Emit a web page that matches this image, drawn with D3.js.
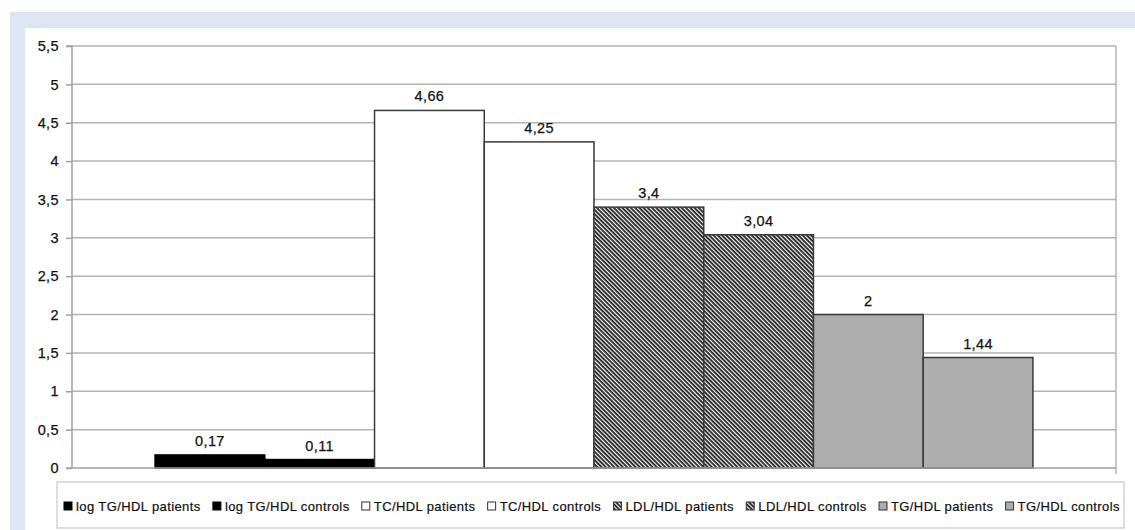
<!DOCTYPE html>
<html><head><meta charset="utf-8">
<script src="https://cdn.jsdelivr.net/npm/d3@7"></script>
<style>
html,body{margin:0;padding:0;background:#fff;}
svg{display:block;font-family:"Liberation Sans",Arial,sans-serif;}
</style></head>
<body>
<svg id="c" width="1135" height="530"></svg>
<script>
const series = ["log TG/HDL patients","log TG/HDL controls","TC/HDL patients","TC/HDL controls","LDL/HDL patients","LDL/HDL controls","TG/HDL patients","TG/HDL controls"];
const values = [0.17, 0.11, 4.66, 4.25, 3.4, 3.04, 2, 1.44];
const labels = ["0,17","0,11","4,66","4,25","3,4","3,04","2","1,44"];
const fills = ["black","black","white","white","hatch","hatch","gray","gray"];
const yTicks = [0,0.5,1,1.5,2,2.5,3,3.5,4,4.5,5,5.5];
const yTickLabels = ["0","0,5","1","1,5","2","2,5","3","3,5","4","4,5","5","5,5"];

const svg = d3.select("#c");
// background frame
svg.append("rect").attr("x",10).attr("y",12).attr("width",1125).attr("height",518).attr("fill","#dfe6f3");
svg.append("rect").attr("x",25).attr("y",28).attr("width",1110).attr("height",502).attr("fill","#ffffff");

const defs = svg.append("defs");
const pat = defs.append("pattern").attr("id","hatch").attr("patternUnits","userSpaceOnUse")
  .attr("width",3).attr("height",3).attr("patternTransform","rotate(45)");
pat.append("rect").attr("width",3).attr("height",3).attr("fill","#ffffff");
pat.append("rect").attr("width",3).attr("height",1.8).attr("fill","#1e1e1e");

const fillOf = f => f==="black" ? "#000000" : f==="white" ? "#ffffff" : f==="gray" ? "#adadad" : "url(#hatch)";

const L = 72, R = 1116, T = 46, B = 468;
const x = d3.scaleBand().domain(series).range([L,R]).paddingInner(0).paddingOuter(0.757);
const y = d3.scaleLinear().domain([0,5.5]).range([B,T]);

// gridlines
svg.append("g").selectAll("line").data(yTicks.filter(d=>d>0)).join("line")
  .attr("x1",L).attr("x2",R).attr("y1",d=>y(d)).attr("y2",d=>y(d))
  .attr("stroke","#b4b4b4").attr("stroke-width",1.5);
// right border
svg.append("line").attr("x1",R).attr("x2",R).attr("y1",T).attr("y2",B+6).attr("stroke","#b4b4b4").attr("stroke-width",1.5);

// bars
svg.append("g").selectAll("rect").data(series).join("rect")
  .attr("x",d=>x(d)).attr("width",x.bandwidth())
  .attr("y",(d,i)=>y(values[i])).attr("height",(d,i)=>B-y(values[i]))
  .attr("fill",(d,i)=>fillOf(fills[i]))
  .attr("stroke",(d,i)=>fills[i]==="black"?"#000":"#3a3a3a").attr("stroke-width",1.5);

// data labels
svg.append("g").selectAll("text").data(series).join("text")
  .attr("x",d=>x(d)+x.bandwidth()/2).attr("y",(d,i)=>y(values[i])-9)
  .attr("text-anchor","middle").attr("font-size",14.5).attr("letter-spacing",0.4).attr("fill","#111")
  .attr("stroke","#111").attr("stroke-width",0.25)
  .text((d,i)=>labels[i]);

// y axis
const yAxis = d3.axisLeft(y).tickValues(yTicks).tickFormat((d,i)=>yTickLabels[i]).tickSize(6).tickPadding(7);
const ga = svg.append("g").attr("transform",`translate(${L},0)`).call(yAxis);
ga.select(".domain").attr("stroke","#a0a0a0").attr("stroke-width",1.5).attr("d",`M-6,${T}H0V${B}`);
ga.selectAll(".tick line").attr("stroke","#a0a0a0").attr("stroke-width",1.5);
ga.selectAll(".tick text").attr("font-size",14.5).attr("letter-spacing",0.4).attr("fill","#111")
  .attr("stroke","#111").attr("stroke-width",0.25).attr("font-family","Liberation Sans, Arial, sans-serif");
// x axis baseline
svg.append("line").attr("x1",L-6).attr("x2",R).attr("y1",B).attr("y2",B).attr("stroke","#a0a0a0").attr("stroke-width",1.5);

// legend
svg.append("rect").attr("x",57).attr("y",482).attr("width",1067).attr("height",46)
  .attr("fill","#fff").attr("stroke","#c8c8c8").attr("stroke-width",1.2);
const lg = svg.append("g");
const items = lg.selectAll("g").data(series).join("g");
items.append("rect").attr("width",8).attr("height",8).attr("y",-9)
  .attr("fill",(d,i)=>fillOf(fills[i])).attr("stroke",(d,i)=>fills[i]==="black"?"#000":"#333").attr("stroke-width",1);
items.append("text").attr("x",12).attr("y",0).attr("font-size",13).attr("letter-spacing",0.4).attr("fill","#111")
  .attr("stroke","#111").attr("stroke-width",0.2).text(d=>d);
const widths = [];
items.each(function(){ widths.push(this.getBBox().width); });
const startX = 64, endX = 1120;
const total = d3.sum(widths);
const gap = (endX-startX-total)/(series.length-1);
let cx = startX;
items.each(function(d,i){ d3.select(this).attr("transform",`translate(${cx},511)`); cx += widths[i]+gap; });
</script>
</body></html>
